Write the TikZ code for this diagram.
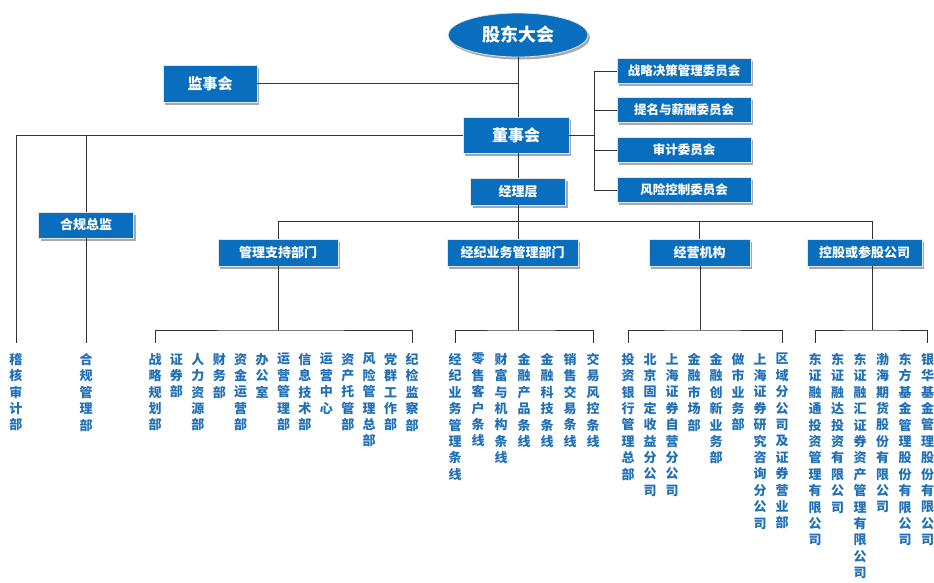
\documentclass[tikz,border=0pt]{standalone}
\usepackage{fontspec}
\newfontfamily\cjk{Noto Sans CJK SC}
\usetikzlibrary{shapes.geometric,shadows}
\XeTeXlinebreaklocale "zh"
\XeTeXlinebreakskip=0pt plus 1pt
\definecolor{boxblue}{HTML}{0A6EBE}
\definecolor{txtblue}{HTML}{2070B8}
\tikzset{
	box/.style={draw=gray!20, line width=0.8pt, fill=boxblue, text=white, inner sep=0pt,
		minimum height=27pt, font=\cjk\bfseries\fontsize{13}{15}\selectfont,
		drop shadow={shadow xshift=2pt, shadow yshift=-2.5pt, fill=gray!75, opacity=0.9}},
	col/.style={text width=14pt, align=center, inner sep=0pt, anchor=north, text=txtblue,
		font=\cjk\bfseries\fontsize{13}{16.4}\selectfont},
	line/.style={draw=black!80, line width=1pt}
}
\begin{document}
\begin{tikzpicture}[x=1pt,y=-1pt]
	\useasboundingbox (0,0) rectangle (934,582);

	\node[box, ellipse, minimum width=140pt, minimum height=44pt, font=\cjk\bfseries\fontsize{18}{20}\selectfont] at (518, 35) (gd) {股东大会};
	\node[box, minimum width=94pt, minimum height=37pt, font=\cjk\bfseries\fontsize{15}{17}\selectfont] at (210, 83.5) (js) {监事会};
	\node[box, minimum width=106pt, minimum height=36pt, font=\cjk\bfseries\fontsize{16}{18}\selectfont] at (516, 135) (dsh) {董事会};
	\node[box, minimum width=95pt] at (518, 191.5) (jlc) {经理层};
	\node[box, minimum width=95pt, minimum height=26pt] at (86, 225) (hgzj) {合规总监};

	\foreach \t/\y [count=\i] in {战略决策管理委员会/71, 提名与薪酬委员会/110, 审计委员会/150, 风险控制委员会/190}
		\node[box, minimum width=134pt, minimum height=25pt, font=\cjk\bfseries\fontsize{12.5}{14}\selectfont] at (684, \y) (w\i) {\t};

	\node[box, minimum width=120pt] at (278, 252.5) (glzc) {管理支持部门};
	\node[box, minimum width=131pt] at (512.5, 252.5) (jjyw) {经纪业务管理部门};
	\node[box, minimum width=101pt] at (699.5, 252.5) (jyjg) {经营机构};
	\node[box, minimum width=115pt] at (864.5, 252.5) (kgcg) {控股或参股公司};

	% columns
	\node[col] at (16, 353) (jh) {稽核审计部};
	\node[col] at (86, 353) (hg) {合规管理部};
	\foreach \t [count=\i] in {战略规划部, 证券部, 人力资源部, 财务部, 资金运营部, 办公室, 运营管理部, 信息技术部, 运营中心, 资产托管部, 风险管理总部, 党群工作部, 纪检监察部}
		\node[col] at ({155+21.42*(\i-1)}, 353) (a\i) {\t};
	\foreach \t [count=\i] in {经纪业务管理条线, 零售客户条线, 财富与机构条线, 金融产品条线, 金融科技条线, 销售交易条线, 交易风控条线}
		\node[col] at ({455+23*(\i-1)}, 353) (b\i) {\t};
	\foreach \t [count=\i] in {投资银行管理总部, 北京固定收益分公司, 上海证券自营分公司, 金融市场部, 金融创新业务部, 做市业务部, 上海证券研究咨询分公司, 区域分公司及证券营业部}
		\node[col] at ({628+22*(\i-1)}, 353) (c\i) {\t};
	\foreach \t [count=\i] in {东证融通投资管理有限公司, 东证融达投资有限公司, 东证融汇证券资产管理有限公司, 渤海期货股份有限公司, 东方基金管理股份有限公司, 银华基金管理股份有限公司}
		\node[col] at ({815+22.5*(\i-1)}, 353) (d\i) {\t};

	% connectors
	\draw[line] (gd.south) -- (gd.south |- dsh.north);
	\draw[line] (js.east) -- (js.east -| gd.south);
	\draw[line] (dsh.south -| jlc) -- (jlc.north);

	\coordinate (wy) at (594, 135);
	\draw[line] (dsh.east) -- (wy);
	\draw[line] (w1.west -| wy) -- (w4.west -| wy);
	\foreach \i in {1,...,4}
		\draw[line] (w\i.west -| wy) -- (w\i.west);

	\draw[line] (dsh.west) -| ([yshift=10pt]jh.north);
	\draw[line] (hgzj.north |- dsh.west) -- (hgzj.north);
	\draw[line] (hgzj.south) -- ([yshift=10pt]hg.north);

	\coordinate (k4) at (872, 221);
	\draw[line] (jlc.south) -- (jlc.south |- jjyw.north);
	\draw[line] (glzc.north) |- (k4) -- (k4 |- kgcg.north);
	\draw[line] (jyjg.north) -- (jyjg.north |- k4);

	\coordinate (p1) at (278, 330);
	\coordinate (p2) at (518, 330);
	\coordinate (p3) at (700, 330);
	\coordinate (p4) at (872, 330);
	\draw[line] (glzc.south) -- (p1);
	\draw[line] (jjyw.south -| p2) -- (p2);
	\draw[line] (jyjg.south -| p3) -- (p3);
	\draw[line] (kgcg.south -| p4) -- (p4);
	\draw[line] ([yshift=10pt]a1.north) |- (p1) -| ([yshift=10pt]a13.north);
	\draw[line] ([yshift=10pt]b1.north) |- (p2) -| ([yshift=10pt]b7.north);
	\draw[line] ([yshift=10pt]c1.north) |- (p3) -| ([yshift=10pt]c8.north);
	\draw[line] ([yshift=10pt]d1.north) |- (p4) -| ([yshift=10pt]d6.north);
\end{tikzpicture}
\end{document}
